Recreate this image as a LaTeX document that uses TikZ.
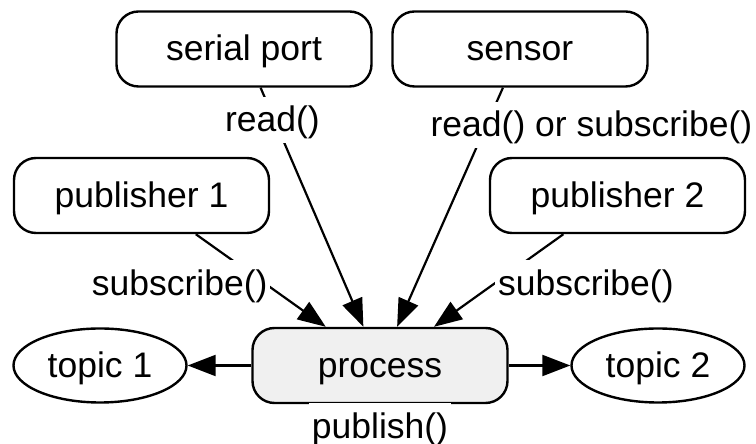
\documentclass[tikz,border=0pt]{standalone}
\usepackage{fontspec}
\setmainfont{Liberation Sans}
\usetikzlibrary{arrows.meta,shapes.geometric}
\definecolor{prosessi}{RGB}{240,240,240}

\begin{document}
\begin{tikzpicture}[x=1pt, y=1pt,
      font=\fontsize{35.5}{40}\selectfont,
      laatikko/.style={draw=black, line width=2.4pt, rounded corners=22pt,
        minimum width=255pt, minimum height=75pt, inner sep=0pt,
        text height=32pt, text depth=8pt},
      soikio/.style={draw=black, ellipse, line width=2.4pt,
        minimum width=173pt, minimum height=74pt, inner sep=0pt,
        text height=32pt, text depth=8pt},
      nuoli/.style={line width=2.2pt, draw=black,
        -{Triangle[length=28pt, width=21pt]}},
      teksti/.style={fill=white, inner sep=3pt,
        text height=32pt, text depth=8pt}]

      \useasboundingbox (0,0) rectangle (756,444);

      % Laatikot ja soikiot
      \node [laatikko] (serial) at (244,395) {serial port};
      \node [laatikko] (sensor) at (520,395) {sensor};
      \node [laatikko] (pub1) at (141.5,248.5) {publisher 1};
      \node [laatikko] (pub2) at (617.5,248.5) {publisher 2};
      \node [laatikko, fill=prosessi] (process) at (380,78.5) {process};
      \node [soikio] (topic1) at (100,78.5) {topic 1};
      \node [soikio] (topic2) at (658,78.5) {topic 2};

      % Nuolet ja niiden tekstit
      \draw [nuoli] (serial) -- node [teksti, pos=0.135, xshift=-2pt] {read()} (process);
      \draw [nuoli] (sensor) -- node [teksti, pos=0.156, xshift=105pt] {read() or subscribe()} (process);
      \draw [nuoli] (pub1) -- node [teksti, pos=0.53, xshift=-85pt] {subscribe()} (process);
      \draw [nuoli] (pub2) -- node [teksti, pos=0.53, xshift=91pt] {subscribe()} (process);
      \draw [nuoli] (process) -- (topic1);
      \draw [nuoli] (process) -- (topic2);
      \node [teksti, anchor=north, yshift=1.2pt] (publish) at (process.south) {publish()};
    \end{tikzpicture}
\end{document}
